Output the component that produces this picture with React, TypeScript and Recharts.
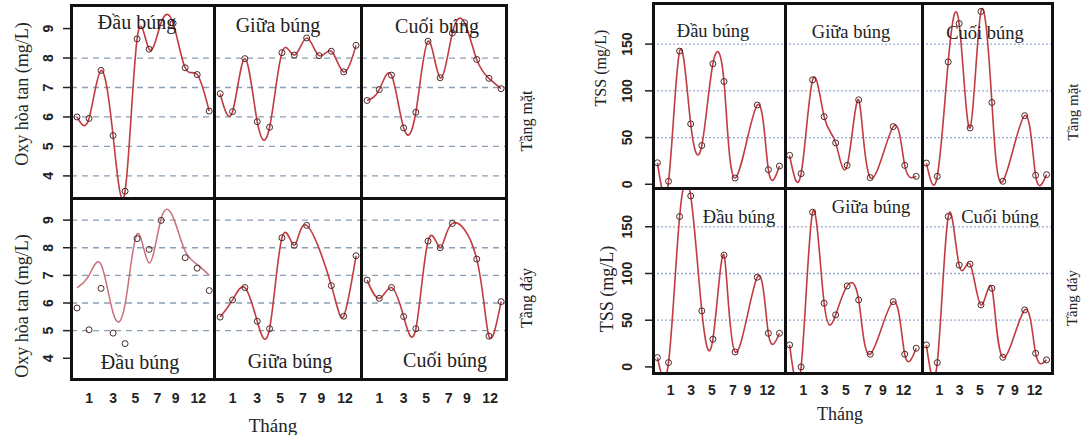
import { LineChart, Line, XAxis, YAxis, ReferenceLine } from 'recharts';

// x positions of the 12 sampling points and the month labels under them
const monthIdx = [0, 1, 2, 3, 4, 5, 6, 7, 8, 9, 10, 11];
const tickIdx = [1, 3, 5, 7, 9, 11];
const tickLabels = ['1', '3', '5', '7', '9', '12'];
const doLabelAt = [1, 3, 4.85, 6.7, 8.2, 10.1];
const tssLabelAt = [1.2, 3.05, 4.9, 6.8, 8.1, 9.9];

const sites = ['Đầu búng', 'Giữa búng', 'Cuối búng'];
const layers = ['Tầng mặt', 'Tầng đáy'];

// Oxy hòa tan (mg/L)
const doMatDau = [6.0, 5.95, 7.58, 5.37, 3.48, 8.65, 8.3, 9.2, 9.18, 7.67, 7.44, 6.2];
const doMatGiua = [6.79, 6.18, 7.98, 5.84, 5.65, 8.18, 8.1, 8.68, 8.08, 8.23, 7.53, 8.43];
const doMatCuoi = [6.56, 6.93, 7.42, 5.63, 6.16, 8.57, 7.33, 8.85, 9.2, 7.95, 7.31, 6.96];
const doDayDau = [5.82, 5.03, 6.53, 4.91, 4.53, 8.33, 7.94, 8.99, null, 7.64, 7.26, 6.45];
const doDayDauFit = [6.55, 7.0, 7.4, 5.65, 5.95, 8.5, 7.45, 9.05, 9.1, 7.88, 7.4, 7.0];
const doDayGiua = [5.49, 6.11, 6.56, 5.34, 5.07, 8.36, 8.09, 8.81, null, 6.63, 5.52, 7.71];
const doDayCuoi = [6.83, 6.17, 6.56, 5.51, 5.07, 8.24, 8.0, 8.88, null, 7.59, 4.8, 6.05];

// TSS (mg/L)
const tssMatDau = [23, 3.2, 142.5, 64.6, 41.5, 129, 110, 6.7, null, 84.8, 15.6, 19.5];
const tssMatGiua = [31, 11.4, 111.7, 72.3, 44.3, 20.2, 90.4, 7.1, null, 61.7, 20.2, 8.5];
const tssMatCuoi = [22.7, 8.5, 131, 172, 60.3, 185, 87.5, 3.2, null, 73.4, 9.6, 10.3];
const tssDayDau = [10, 4.6, 161, 183, 60, 29.7, 119.6, 16, null, 96, 36, 36];
const tssDayGiua = [23.6, 0, 165.6, 68.2, 55.7, 86.7, 71.7, 13.6, null, 69.9, 13.6, 20];
const tssDayCuoi = [23.6, 4.6, 161, 109, 110, 66.4, 84.2, 10.3, null, 61, 14.6, 7.5];

const doTicks = [4, 5, 6, 7, 8, 9];
const doGridMat = [4, 5, 6, 7, 8];
const doGridDay = [5, 6, 7, 8, 9];
const tssTicks = [0, 50, 100, 150];
const tssGrid = [50, 100, 150];

const SERIF = '"Liberation Serif", "Times New Roman", serif';
const SANS = '"Liberation Sans", Arial, sans-serif';
const RED = '#c23b40';

const EmptyTick = () => <g />;

const Panel = (p: any) => {
  const yW = p.yTicks ? 44 : 0;
  const data = monthIdx.map((m, i) => ({ m, v: p.values[i], fit: p.fit ? p.fit[i] : null }));
  const dot = { r: 3, stroke: '#4a2a2a', strokeWidth: 1, fill: 'none' };
  return (
    <div style={{ position: 'absolute', left: p.left - yW, top: p.top }}>
      <LineChart width={p.w + yW} height={p.h + 30} data={data}
        margin={{ top: 0, right: 0, left: 0, bottom: p.labelAt ? 0 : 30 }}>
        <XAxis dataKey="m" type="number" domain={p.xDomain} ticks={tickIdx} allowDataOverflow interval={0}
          height={0} axisLine={false} tickSize={6} tickLine={{ stroke: '#222', strokeWidth: 1.5 }} tick={EmptyTick} />
        {p.labelAt && (
          <XAxis xAxisId="lbl" dataKey="m" type="number" domain={p.xDomain} ticks={p.labelAt} allowDataOverflow interval={0}
            height={30} axisLine={false} tickLine={false} tickSize={0} tickMargin={0}
            tick={(t: any) => (
              <text x={t.x} y={t.y + p.labelOff} textAnchor="middle" dominantBaseline="central"
                fontFamily={SANS} fontWeight="bold" fontSize={14} fill="#222">{tickLabels[t.index]}</text>
            )} />
        )}
        <YAxis type="number" domain={p.yDomain} allowDataOverflow hide={!p.yTicks} width={yW} ticks={p.yTicks} interval={0}
          axisLine={false} tickSize={8} tickMargin={2} tickLine={{ stroke: '#222', strokeWidth: 1.5 }}
          tick={(t: any) => (
            <text transform={`translate(${t.x - (p.yLabelOff || 0)},${t.y}) rotate(-90)`} textAnchor="middle"
              dominantBaseline="central" fontFamily={SANS} fontWeight="bold" fontSize={14} fill="#222">{t.payload.value}</text>
          )} />
        {p.grid.map((g: number) => (
          <ReferenceLine key={g} y={g} stroke={p.tss ? '#97abd0' : '#8a9fb5'} strokeWidth={1.3}
            strokeDasharray={p.tss ? '2 2' : '6 5'} />
        ))}
        {p.fit ? (
          <>
            <Line dataKey="fit" type="natural" stroke="#c9707a" strokeWidth={1.5} dot={false} isAnimationActive={false} />
            <Line dataKey="v" stroke="none" dot={dot} isAnimationActive={false} />
          </>
        ) : (
          <Line dataKey="v" type="natural" stroke={RED} strokeWidth={1.6} connectNulls dot={dot} isAnimationActive={false} />
        )}
      </LineChart>
      <div style={{
        position: 'absolute', left: yW - 1.5, top: -1.5, width: p.w + 3, height: p.h + 3,
        border: '3px solid #111', boxSizing: 'border-box', pointerEvents: 'none'
      }} />
    </div>
  );
};

const doCols = [71, 214, 361, 506];
const doRows = [5, 198, 379];
const tssCols = [653, 785, 922, 1052];
const tssRows = [3, 188, 373];
const doX: [number, number] = [-0.5, 11.4];
const tssX: [number, number] = [-0.4, 11.5];
const doY: [number, number] = [3.25, 9.8];
const tssYMat: [number, number] = [-4, 194];
const tssYDay: [number, number] = [-6.5, 191.5];

const doMat = [doMatDau, doMatGiua, doMatCuoi];
const doDay = [doDayDau, doDayGiua, doDayCuoi];
const tssMat = [tssMatDau, tssMatGiua, tssMatCuoi];
const tssDay = [tssDayDau, tssDayGiua, tssDayCuoi];

const doTitleMat = [[137, 22], [278, 25], [437, 26]];
const doTitleDay = [[140, 362], [290, 361], [445, 360]];
const tssTitleMat = [[713, 31], [851, 32], [985, 33]];
const tssTitleDay = [[739, 217], [871, 207], [1000, 217]];

const Rot = ({ x, y, size, children }: any) => (
  <text transform={`translate(${x},${y}) rotate(-90)`} textAnchor="middle" dominantBaseline="central"
    fontFamily={SERIF} fontSize={size} fill="#222">{children}</text>
);

export default function App() {
  return (
    <div style={{ position: 'absolute', left: 0, top: 0, width: 1082, height: 435, background: '#fff', overflow: 'hidden' }}>
      {[0, 1, 2].map((c) => (
        <Panel key={'dm' + c} left={doCols[c]} top={doRows[0]} w={doCols[c + 1] - doCols[c]} h={doRows[1] - doRows[0]}
          values={doMat[c]} xDomain={doX} yDomain={doY} grid={doGridMat}
          yTicks={c === 0 ? doTicks : undefined} yLabelOff={13} />
      ))}
      {[0, 1, 2].map((c) => (
        <Panel key={'dd' + c} left={doCols[c]} top={doRows[1]} w={doCols[c + 1] - doCols[c]} h={doRows[2] - doRows[1]}
          values={doDay[c]} fit={c === 0 ? doDayDauFit : undefined} xDomain={doX} yDomain={doY} grid={doGridDay}
          yTicks={c === 0 ? doTicks : undefined} yLabelOff={13} labelAt={doLabelAt} labelOff={19} />
      ))}
      {[0, 1, 2].map((c) => (
        <Panel key={'tm' + c} tss left={tssCols[c]} top={tssRows[0]} w={tssCols[c + 1] - tssCols[c]} h={tssRows[1] - tssRows[0]}
          values={tssMat[c]} xDomain={tssX} yDomain={tssYMat} grid={tssGrid}
          yTicks={c === 0 ? tssTicks : undefined} yLabelOff={16} />
      ))}
      {[0, 1, 2].map((c) => (
        <Panel key={'td' + c} tss left={tssCols[c]} top={tssRows[1]} w={tssCols[c + 1] - tssCols[c]} h={tssRows[2] - tssRows[1]}
          values={tssDay[c]} xDomain={tssX} yDomain={tssYDay} grid={tssGrid}
          yTicks={c === 0 ? tssTicks : undefined} yLabelOff={16} labelAt={tssLabelAt} labelOff={17} />
      ))}
      <svg width={1082} height={435} style={{ position: 'absolute', left: 0, top: 0, pointerEvents: 'none' }}>
        {sites.map((s, i) => (
          <g key={s}>
            <text x={doTitleMat[i][0]} y={doTitleMat[i][1]} textAnchor="middle" dominantBaseline="central" fontFamily={SERIF} fontSize={20} fill="#222">{s}</text>
            <text x={doTitleDay[i][0]} y={doTitleDay[i][1]} textAnchor="middle" dominantBaseline="central" fontFamily={SERIF} fontSize={20} fill="#222">{s}</text>
            <text x={tssTitleMat[i][0]} y={tssTitleMat[i][1]} textAnchor="middle" dominantBaseline="central" fontFamily={SERIF} fontSize={18.5} fill="#222">{s}</text>
            <text x={tssTitleDay[i][0]} y={tssTitleDay[i][1]} textAnchor="middle" dominantBaseline="central" fontFamily={SERIF} fontSize={18.5} fill="#222">{s}</text>
          </g>
        ))}
        <Rot x={22} y={94} size={18}>Oxy hòa tan (mg/L)</Rot>
        <Rot x={22} y={306} size={18}>Oxy hòa tan (mg/L)</Rot>
        <Rot x={600} y={68} size={16}>TSS (mg/L)</Rot>
        <Rot x={607} y={289} size={18}>TSS (mg/L)</Rot>
        <Rot x={526} y={121} size={16}>{layers[0]}</Rot>
        <Rot x={526} y={298} size={16}>{layers[1]}</Rot>
        <Rot x={1073} y={112} size={15}>{layers[0]}</Rot>
        <Rot x={1072} y={298} size={15}>{layers[1]}</Rot>
        <text x={273} y={425} textAnchor="middle" dominantBaseline="central" fontFamily={SERIF} fontSize={19} fill="#222">Tháng</text>
        <text x={840} y={414} textAnchor="middle" dominantBaseline="central" fontFamily={SERIF} fontSize={18} fill="#222">Tháng</text>
      </svg>
    </div>
  );
}
